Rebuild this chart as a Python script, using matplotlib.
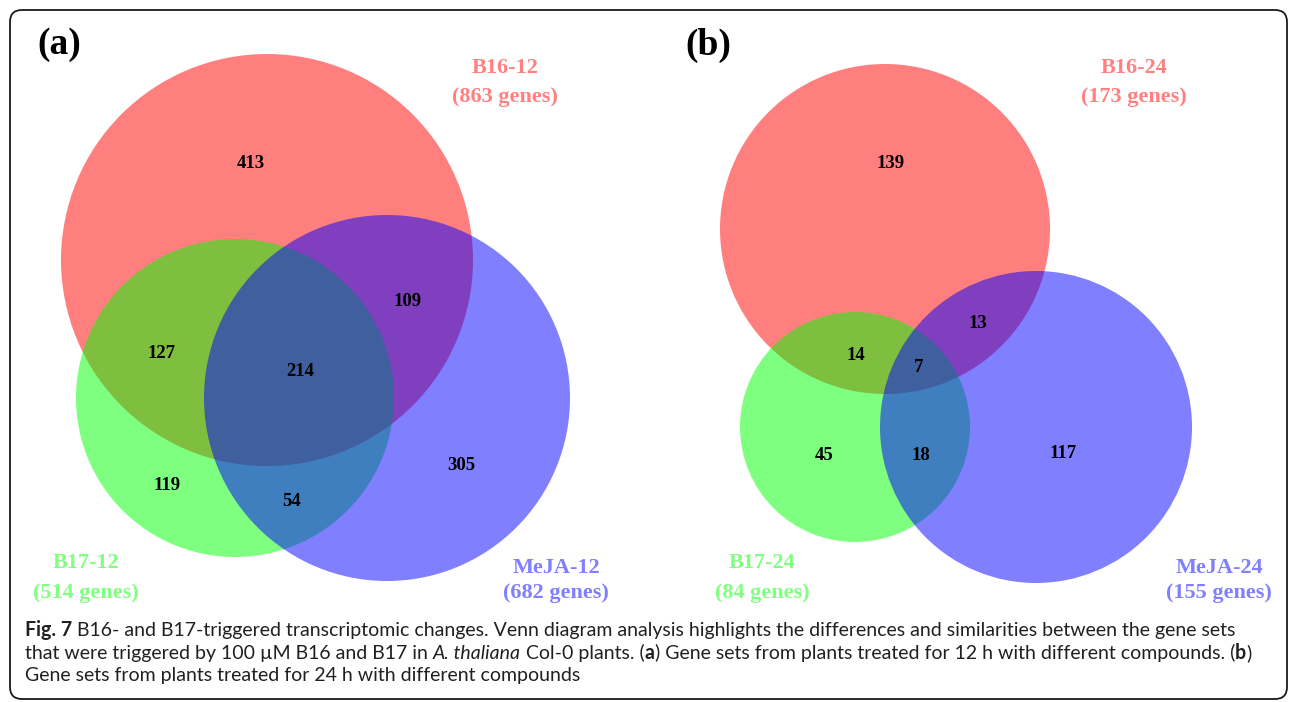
import matplotlib
matplotlib.use("Agg")
import matplotlib.pyplot as plt
from matplotlib.patches import Circle, FancyBboxPatch

# ---- data -------------------------------------------------------------
# panel (a): 12 h treatment, panel (b): 24 h treatment
names_12 = ["B16-12", "B17-12", "MeJA-12"]
totals_12 = [863, 514, 682]
names_24 = ["B16-24", "B17-24", "MeJA-24"]
totals_24 = [173, 84, 155]

# region order: B16 only, B16&B17, B16&MeJA, all three, B17 only, B17&MeJA, MeJA only
counts_12 = [413, 127, 109, 214, 119, 54, 305]
counts_24 = [139, 14, 13, 7, 45, 18, 117]

caption = [
    [("Fig. 7", "bold", "normal"),
     (" B16- and B17-triggered transcriptomic changes. Venn diagram analysis highlights the differences and similarities between the gene sets", "normal", "normal")],
    [("that were triggered by 100 \u00b5M B16 and B17 in ", "normal", "normal"),
     ("A. thaliana", "normal", "italic"),
     (" Col-0 plants. (", "normal", "normal"), ("a", "bold", "normal"),
     (") Gene sets from plants treated for 12 h with different compounds. (", "normal", "normal"),
     ("b", "bold", "normal"), (")", "normal", "normal")],
    [("Gene sets from plants treated for 24 h with different compounds", "normal", "normal")],
]

# ---- layout (pixel coordinates) ---------------------------------------
colors = ["#ff0000", "#00ff00", "#0000ff"]
label_colors = ["#ff8080", "#80ff80", "#8080ff"]

panels = [
    dict(tag="(a)", tag_xy=(59, 45), names=names_12, totals=totals_12, counts=counts_12,
         circles=[(267, 260, 206), (235, 398, 159), (387, 398, 183)],
         label_xy=[(505, 68, 97), (86, 563, 593), (556, 568, 593)],
         count_xy=[(251, 164), (162, 353), (408, 302), (300, 371),
                   (167, 486), (292, 501), (461, 465)]),
    dict(tag="(b)", tag_xy=(708, 45), names=names_24, totals=totals_24, counts=counts_24,
         circles=[(885, 229, 165), (855, 427, 115), (1036, 427, 156)],
         label_xy=[(1134, 68, 97), (762, 563, 593), (1219, 568, 593)],
         count_xy=[(891, 164), (856, 355), (978, 324), (919, 367),
                   (824, 456), (921, 456), (1063, 454)]),
]

W, H = 1290, 702
fig = plt.figure(figsize=(W / 100, H / 100), dpi=100)
ax = fig.add_axes([0, 0, 1, 1])
ax.set_xlim(0, W)
ax.set_ylim(H, 0)
ax.axis("off")

serif = "Liberation Serif"

for p in panels:
    for (cx, cy, r), c in zip(p["circles"], colors):
        ax.add_patch(Circle((cx, cy), r, facecolor=c, alpha=0.5, edgecolor="none"))
    for (x, y), n in zip(p["count_xy"], p["counts"]):
        ax.text(x, y, str(n), ha="center", va="center", fontsize=13.5,
                fontweight="bold", family=serif, color="black")
    for (x, y1, y2), name, tot, lc in zip(p["label_xy"], p["names"], p["totals"], label_colors):
        ax.text(x, y1, name, ha="center", va="center", fontsize=16,
                fontweight="bold", family=serif, color=lc)
        ax.text(x, y2, f"({tot} genes)", ha="center", va="center", fontsize=16,
                fontweight="bold", family=serif, color=lc)
    ax.text(p["tag_xy"][0], p["tag_xy"][1], p["tag"], ha="center", va="center",
            fontsize=27, fontweight="bold", family=serif, color="black")

# rounded frame
ax.add_patch(FancyBboxPatch((10, 10), 1277, 689, boxstyle="round,pad=0,rounding_size=12",
                            facecolor="none", edgecolor="#1a1a1a", linewidth=1.3))

# caption, drawn run by run
renderer = fig.canvas.get_renderer()
cap_font = "Lato"
cap_color = "#231f20"


def text_width(s, size, weight, style):
    t = ax.text(0, 0, s, fontsize=size, fontweight=weight, fontstyle=style, family=cap_font)
    w = t.get_window_extent(renderer).width
    t.remove()
    return w


def line_width(runs, size):
    sp = text_width("a a", size, "normal", "normal") - text_width("aa", size, "normal", "normal")
    total = 0
    for s, wgt, sty in runs:
        total += (len(s) - len(s.lstrip(" "))) * sp
        core = s.strip(" ")
        if core:
            total += text_width(core, size, wgt, sty)
        total += (len(s) - len(s.rstrip(" "))) * sp
    return total


# fit the caption so the first two lines span about what they do in the figure
cap_size = 12.3
cap_size *= (1222 + 1229) / (line_width(caption[0], cap_size) + line_width(caption[1], cap_size))
space = text_width("a a", cap_size, "normal", "normal") - text_width("aa", cap_size, "normal", "normal")

baselines = [636, 659, 681]
for runs, yb in zip(caption, baselines):
    x = 25
    for s, wgt, sty in runs:
        x += (len(s) - len(s.lstrip(" "))) * space
        core = s.strip(" ")
        if core:
            ax.text(x, yb, core, fontsize=cap_size, fontweight=wgt, fontstyle=sty,
                    family=cap_font, color=cap_color, va="baseline", ha="left")
            x += text_width(core, cap_size, wgt, sty)
        x += (len(s) - len(s.rstrip(" "))) * space

fig.savefig("out.png", dpi=100)
